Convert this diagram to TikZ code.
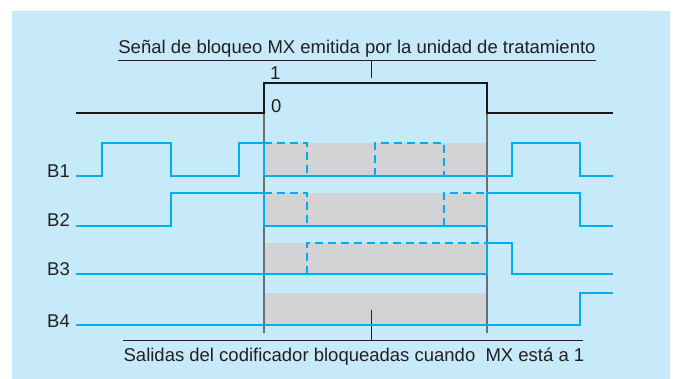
\documentclass[tikz,border=0pt]{standalone}
\usepackage{fontspec}
\setmainfont{Liberation Sans}
\definecolor{bgblue}{RGB}{198,234,250}
\definecolor{sigblue}{RGB}{0,174,239}
\definecolor{boxgray}{RGB}{209,211,212}
\definecolor{linegray}{RGB}{110,110,113}
\definecolor{txt}{RGB}{35,31,32}
\tikzset{
  lbl/.style={inner sep=0pt, text=txt, font=\fontsize{18.5}{22}\selectfont},
  sig/.style={draw=sigblue, line width=2pt, line join=miter},
  sigdash/.style={sig, dash pattern=on 8pt off 5pt},
  mxsig/.style={draw=black!90, line width=2pt},
  guide/.style={draw=linegray, line width=1.3pt},
  rule/.style={draw=txt, line width=1pt},
  blocked/.style={fill=boxgray, draw=none}
}
\begin{document}
\begin{tikzpicture}[x=1pt,y=-1pt]
\useasboundingbox (0,0) rectangle (677,379);
\fill[bgblue] (12,11) rectangle (670,379);
% gray blocked areas
\path[blocked] (264,143) rectangle (487,176);
\path[blocked] (264,193) rectangle (487,226);
\path[blocked] (264,243) rectangle (487,274);
\path[blocked] (264,293) rectangle (487,325);
% texts
\node[lbl, anchor=base] (title) at (357,54) {Señal de bloqueo MX emitida por la unidad de tratamiento};
\node[lbl, anchor=base] (bottom) at (354,361) {Salidas del codificador bloqueadas cuando\ \ MX está a 1};
\node[lbl, anchor=base west] (one) at (270,80) {1};
\node[lbl, anchor=base west] (zero) at (271,113) {0};
\node[lbl, anchor=base east] (b1) at (70,178) {B1};
\node[lbl, anchor=base east] (b2) at (70,227) {B2};
\node[lbl, anchor=base east] (b3) at (70,276) {B3};
\node[lbl, anchor=base east] (b4) at (70,327) {B4};
% rules and ticks
\coordinate (tl) at (118,61); \coordinate (tr) at (596,61);
\coordinate (tt) at (371,61); \coordinate (tb) at (371,78);
\draw[rule] (tl) -- (tr);
\draw[rule] (tt) -- (tb);
\coordinate (bl) at (123,340); \coordinate (br) at (583,340);
\coordinate (bt) at (371,310); \coordinate (bb) at (371,340);
\draw[rule] (bl) -- (br);
\draw[rule] (bt) -- (bb);
% guides
\draw[guide] (264,113) -- (264,333);
\draw[guide] (487,113) -- (487,333);
% MX signal
\draw[mxsig] (76,113) -- (264,113) -- (264,83) -- (487,83) -- (487,113) -- (613,113);
% B1
\draw[sig] (76,176) -- (102,176) -- (102,143) -- (171,143) -- (171,176) -- (239,176) -- (239,143) -- (264,143) -- (264,176) -- (512,176) -- (512,143) -- (580,143) -- (580,176) -- (613,176);
\draw[sigdash] (264,143) -- (307,143) -- (307,176);
\draw[sigdash] (375,176) -- (375,143) -- (444,143) -- (444,176);
% B2
\draw[sig] (76,226) -- (171,226) -- (171,193) -- (264,193) -- (264,226) -- (487,226) -- (487,193) -- (580,193) -- (580,226) -- (613,226);
\draw[sigdash] (264,193) -- (307,193) -- (307,226);
\draw[sigdash] (444,226) -- (444,193) -- (487,193);
% B3
\draw[sig] (76,274) -- (487,274) -- (487,243) -- (512,243) -- (512,274) -- (613,274);
\draw[sigdash] (307,274) -- (307,243) -- (487,243);
% B4
\draw[sig] (76,325) -- (580,325) -- (580,293) -- (613,293);
\end{tikzpicture}
\end{document}
